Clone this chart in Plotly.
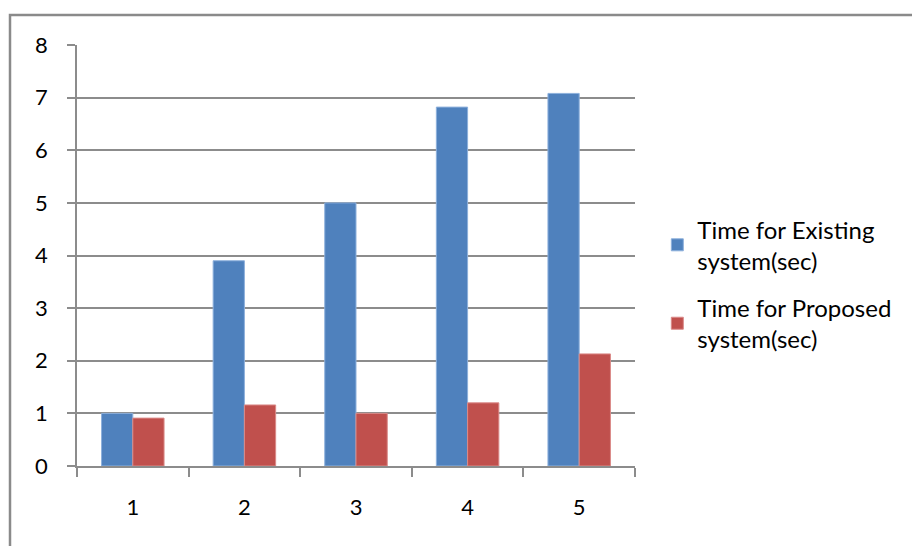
import plotly.graph_objects as go

# Run number and measured processing time for each system
runs = ["1", "2", "3", "4", "5"]
existing_sec = [1.0, 3.9, 5.0, 6.82, 7.08]
proposed_sec = [0.91, 1.16, 1.0, 1.2, 2.13]
y_ticks = [0, 1, 2, 3, 4, 5, 6, 7, 8]

BLUE = "#4F81BD"
RED = "#C0504D"
GRID = "#8C8C8C"
FONT = "Lato, Open Sans, sans-serif"

fig = go.Figure()
fig.add_trace(go.Bar(
    x=runs, y=existing_sec, name="Time for Existing<br>system(sec)",
    legendgroup="existing",
    marker=dict(color=BLUE, line=dict(color="#8DB0DC", width=1)),
))
fig.add_trace(go.Bar(
    x=runs, y=proposed_sec, name="Time for Proposed<br>system(sec)",
    legendgroup="proposed",
    marker=dict(color=RED, line=dict(color="#DA8A88", width=1)),
))

L, R, T, B = 77, 277, 45, 80
W, H = 912, 546
pw, ph = W - L - R, H - T - B

# chart frame drawn around the whole figure area
fig.add_shape(
    type="rect", xref="paper", yref="paper",
    x0=(10 - L) / pw, x1=(W + 5 - L) / pw,
    y0=-(H + 5 - (T + ph)) / ph, y1=(T + ph - 15) / ph,
    line=dict(color="#8A8A8A", width=2.5), fillcolor="rgba(0,0,0,0)",
    layer="below",
)

fig.update_layout(
    width=W, height=H,
    margin=dict(l=L, r=R, t=T, b=B),
    paper_bgcolor="white", plot_bgcolor="white",
    barmode="group", bargap=0.44, bargroupgap=0,
    font=dict(family=FONT, size=22, color="#000000"),
    showlegend=True,
    legend=dict(
        x=1.04, y=0.432, xanchor="left", yanchor="middle",
        font=dict(family=FONT, size=24, color="#000000"),
        tracegroupgap=13, itemwidth=30,
        bgcolor="rgba(0,0,0,0)",
    ),
    xaxis=dict(
        type="category", tickson="boundaries",
        ticks="outside", ticklen=9, tickcolor=GRID, tickwidth=1.5,
        showline=True, linecolor=GRID, linewidth=1.5,
        showgrid=False, ticklabelstandoff=21,
        tickfont=dict(family=FONT, size=22),
    ),
    yaxis=dict(
        range=[0, 8], tickvals=y_ticks, ticks="outside", ticklen=8,
        tickcolor=GRID, tickwidth=1.5,
        showline=True, linecolor=GRID, linewidth=1.5,
        showgrid=True, gridcolor=GRID, gridwidth=1.5,
        zeroline=False, ticklabelstandoff=15,
        tickfont=dict(family=FONT, size=22),
    ),
)

fig.write_html("out.html")
